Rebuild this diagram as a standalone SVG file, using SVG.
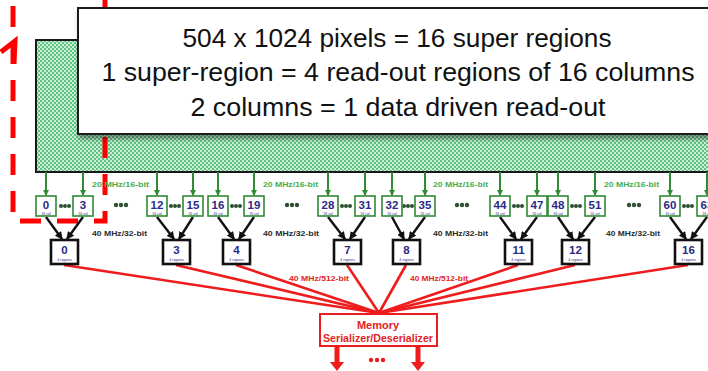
<svg xmlns="http://www.w3.org/2000/svg" width="708" height="371" viewBox="0 0 708 371">
  <style>
    .title { font-family: "Liberation Sans", Arial, sans-serif; font-size: 26px; fill: #111; }
    .num { font-family: "Liberation Sans", Arial, sans-serif; font-weight: bold; font-size: 11.5px; fill: #2a2a86; text-anchor: middle; }
    .tiny { font-family: "Liberation Sans", Arial, sans-serif; font-size: 3.5px; fill: #2a2a86; text-anchor: middle; }
    .col { fill: #ffffff; stroke: #2f8a34; stroke-width: 1.6; }
    .reg { fill: #ffffff; stroke: #111111; stroke-width: 2.6; }
    .lblg { font-family: "Liberation Sans", Arial, sans-serif; font-weight: bold; font-size: 8px; fill: #45ad4e; }
    .lblk { font-family: "Liberation Sans", Arial, sans-serif; font-weight: bold; font-size: 8px; fill: #2a2a2a; }
    .lblr { font-family: "Liberation Sans", Arial, sans-serif; font-weight: bold; font-size: 8px; fill: #e52222; }
    .garr { stroke: #2f8a34; stroke-width: 2; fill: none; marker-end: url(#ahG); }
    .karr { stroke: #111111; stroke-width: 2.4; fill: none; marker-end: url(#ahK); }
    .rline { stroke: #ee1c1c; stroke-width: 2.6; fill: none; }
    .gdot { fill: #2f4f33; }
    .mem { font-family: "Liberation Sans", Arial, sans-serif; font-weight: bold; fill: #e52222; text-anchor: middle; }
  </style>
  <defs>
    <pattern id="checker" width="4" height="4" patternUnits="userSpaceOnUse">
      <rect width="4" height="4" fill="#c9f0d5"/>
      <rect width="2" height="2" fill="#62c283"/>
      <rect x="2" y="2" width="2" height="2" fill="#62c283"/>
    </pattern>
    <filter id="shadow" x="-10%" y="-10%" width="130%" height="130%">
      <feDropShadow dx="2" dy="4" stdDeviation="2.5" flood-color="#000" flood-opacity="0.4"/>
    </filter>
    <marker id="ahG" markerWidth="6" markerHeight="6" refX="5" refY="3" orient="auto" markerUnits="userSpaceOnUse">
      <path d="M0,0 L6,3 L0,6 Z" fill="#2f8a34"/>
    </marker>
    <marker id="ahK" markerWidth="8" markerHeight="8" refX="7" refY="4" orient="auto" markerUnits="userSpaceOnUse">
      <path d="M0,0 L8,4 L0,8 Z" fill="#111"/>
    </marker>
  </defs>

  <rect width="708" height="371" fill="#ffffff"/>

  <!-- pixel matrix -->
  <g id="matrix">
    <rect x="36" y="40" width="680" height="132" fill="url(#checker)" stroke="#1a1a1a" stroke-width="2"/>
  </g>

  <!-- super-region outline (dashed) and its pointer -->
  <g id="highlight">
    <path d="M13,0 V221 H105 V0" fill="none" stroke="#ff0000" stroke-width="5" stroke-dasharray="21 16" stroke-dashoffset="-6"/>
    <polyline points="1,52 15,41 14,64" fill="none" stroke="#ff0000" stroke-width="5" stroke-linejoin="miter"/>
  </g>

  <!-- caption box -->
  <g id="caption">
    <rect x="78" y="8" width="640" height="126" fill="#ffffff" stroke="#1a1a1a" stroke-width="2" filter="url(#shadow)"/>
    <text class="title" x="397" y="47" text-anchor="middle" textLength="429" lengthAdjust="spacingAndGlyphs">504 x 1024 pixels = 16 super regions</text>
    <text class="title" x="398" y="81" text-anchor="middle" textLength="593" lengthAdjust="spacingAndGlyphs">1 super-region = 4 read-out regions of 16 columns</text>
    <text class="title" x="398" y="116" text-anchor="middle" textLength="415" lengthAdjust="spacingAndGlyphs">2 columns = 1 data driven read-out</text>
  </g>

  <!-- connectors -->
  <g id="connectors">
    <!-- matrix to column read-outs -->
    <line class="garr" x1="46" y1="172" x2="46" y2="195"/>
    <line class="garr" x1="83" y1="172" x2="83" y2="195"/>
    <line class="garr" x1="157" y1="172" x2="157" y2="195"/>
    <line class="garr" x1="193" y1="172" x2="193" y2="195"/>
    <line class="garr" x1="218" y1="172" x2="218" y2="195"/>
    <line class="garr" x1="254" y1="172" x2="254" y2="195"/>
    <line class="garr" x1="328" y1="172" x2="328" y2="195"/>
    <line class="garr" x1="365" y1="172" x2="365" y2="195"/>
    <line class="garr" x1="392" y1="172" x2="392" y2="195"/>
    <line class="garr" x1="425" y1="172" x2="425" y2="195"/>
    <line class="garr" x1="500" y1="172" x2="500" y2="195"/>
    <line class="garr" x1="537" y1="172" x2="537" y2="195"/>
    <line class="garr" x1="558" y1="172" x2="558" y2="195"/>
    <line class="garr" x1="595" y1="172" x2="595" y2="195"/>
    <line class="garr" x1="670" y1="172" x2="670" y2="195"/>
    <line class="garr" x1="707" y1="172" x2="707" y2="195"/>

    <!-- column read-outs to region blocks -->
    <line class="karr" x1="46" y1="217" x2="62" y2="239"/>
    <line class="karr" x1="83" y1="217" x2="67" y2="239"/>
    <line class="karr" x1="157" y1="217" x2="174" y2="239"/>
    <line class="karr" x1="193" y1="217" x2="179" y2="239"/>
    <line class="karr" x1="218" y1="217" x2="234" y2="239"/>
    <line class="karr" x1="254" y1="217" x2="239" y2="239"/>
    <line class="karr" x1="328" y1="217" x2="345" y2="239"/>
    <line class="karr" x1="365" y1="217" x2="350" y2="239"/>
    <line class="karr" x1="392" y1="217" x2="404" y2="239"/>
    <line class="karr" x1="425" y1="217" x2="409" y2="239"/>
    <line class="karr" x1="500" y1="217" x2="516" y2="239"/>
    <line class="karr" x1="537" y1="217" x2="521" y2="239"/>
    <line class="karr" x1="558" y1="217" x2="573" y2="239"/>
    <line class="karr" x1="595" y1="217" x2="578" y2="239"/>
    <line class="karr" x1="670" y1="217" x2="686" y2="239"/>
    <line class="karr" x1="707" y1="217" x2="691" y2="239"/>

    <!-- region blocks to memory -->
    <line class="rline" x1="64" y1="265" x2="379" y2="313"/>
    <line class="rline" x1="176" y1="265" x2="379" y2="313"/>
    <line class="rline" x1="236" y1="265" x2="379" y2="313"/>
    <line class="rline" x1="347" y1="265" x2="379" y2="313"/>
    <line class="rline" x1="406" y1="265" x2="379" y2="313"/>
    <line class="rline" x1="518" y1="265" x2="379" y2="313"/>
    <line class="rline" x1="575" y1="265" x2="379" y2="313"/>
    <line class="rline" x1="688" y1="265" x2="379" y2="313"/>

    <!-- memory outputs -->
    <rect x="334.5" y="346" width="5" height="17" fill="#ee1c1c"/>
    <polygon points="330,362 344,362 337,371" fill="#ee1c1c"/>
    <rect x="415.5" y="346" width="5" height="17" fill="#ee1c1c"/>
    <polygon points="411,362 425,362 418,371" fill="#ee1c1c"/>
    <circle cx="371" cy="360" r="2.2" fill="#ee1c1c"/>
    <circle cx="377" cy="360" r="2.2" fill="#ee1c1c"/>
    <circle cx="383" cy="360" r="2.2" fill="#ee1c1c"/>

    <!-- link labels -->
    <text class="lblg" x="92" y="187" textLength="57" lengthAdjust="spacingAndGlyphs">20 MHz/16-bit</text>
    <text class="lblg" x="263" y="187" textLength="55" lengthAdjust="spacingAndGlyphs">20 MHz/16-bit</text>
    <text class="lblg" x="433" y="187" textLength="55" lengthAdjust="spacingAndGlyphs">20 MHz/16-bit</text>
    <text class="lblg" x="604" y="187" textLength="55" lengthAdjust="spacingAndGlyphs">20 MHz/16-bit</text>
    <text class="lblk" x="92" y="236" textLength="55" lengthAdjust="spacingAndGlyphs">40 MHz/32-bit</text>
    <text class="lblk" x="263" y="236" textLength="56" lengthAdjust="spacingAndGlyphs">40 MHz/32-bit</text>
    <text class="lblk" x="433" y="236" textLength="55" lengthAdjust="spacingAndGlyphs">40 MHz/32-bit</text>
    <text class="lblk" x="606" y="236" textLength="54" lengthAdjust="spacingAndGlyphs">40 MHz/32-bit</text>
    <text class="lblr" x="289" y="281" textLength="60" lengthAdjust="spacingAndGlyphs">40 MHz/512-bit</text>
    <text class="lblr" x="410" y="281" textLength="58" lengthAdjust="spacingAndGlyphs">40 MHz/512-bit</text>
  </g>

  <!-- ellipses between groups -->
  <g id="ellipses">
    <circle class="gdot" cx="61" cy="206" r="2"/><circle class="gdot" cx="65" cy="206" r="2"/><circle class="gdot" cx="69" cy="206" r="2"/>
    <circle class="gdot" cx="171" cy="206" r="2"/><circle class="gdot" cx="175" cy="206" r="2"/><circle class="gdot" cx="179" cy="206" r="2"/>
    <circle class="gdot" cx="232" cy="206" r="2"/><circle class="gdot" cx="236" cy="206" r="2"/><circle class="gdot" cx="240" cy="206" r="2"/>
    <circle class="gdot" cx="342" cy="206" r="2"/><circle class="gdot" cx="346" cy="206" r="2"/><circle class="gdot" cx="350" cy="206" r="2"/>
    <circle class="gdot" cx="404" cy="206" r="2"/><circle class="gdot" cx="408" cy="206" r="2"/><circle class="gdot" cx="412" cy="206" r="2"/>
    <circle class="gdot" cx="514" cy="206" r="2"/><circle class="gdot" cx="518" cy="206" r="2"/><circle class="gdot" cx="522" cy="206" r="2"/>
    <circle class="gdot" cx="572" cy="206" r="2"/><circle class="gdot" cx="576" cy="206" r="2"/><circle class="gdot" cx="580" cy="206" r="2"/>
    <circle class="gdot" cx="684" cy="206" r="2"/><circle class="gdot" cx="688" cy="206" r="2"/><circle class="gdot" cx="692" cy="206" r="2"/>
    <circle class="gdot" cx="116" cy="205" r="2.2"/><circle class="gdot" cx="121" cy="205" r="2.2"/><circle class="gdot" cx="126" cy="205" r="2.2"/>
    <circle class="gdot" cx="287" cy="205" r="2.2"/><circle class="gdot" cx="292" cy="205" r="2.2"/><circle class="gdot" cx="297" cy="205" r="2.2"/>
    <circle class="gdot" cx="457" cy="205" r="2.2"/><circle class="gdot" cx="462" cy="205" r="2.2"/><circle class="gdot" cx="467" cy="205" r="2.2"/>
    <circle class="gdot" cx="629" cy="205" r="2.2"/><circle class="gdot" cx="634" cy="205" r="2.2"/><circle class="gdot" cx="639" cy="205" r="2.2"/>
  </g>

  <!-- column read-out nodes -->
  <g id="col0"><rect class="col" x="36" y="196" width="20" height="20"/><text class="num" x="46" y="209">0</text><text class="tiny" x="46" y="214.5">16 col</text></g>
  <g id="col3"><rect class="col" x="73" y="196" width="20" height="20"/><text class="num" x="83" y="209">3</text><text class="tiny" x="83" y="214.5">16 col</text></g>
  <g id="col12"><rect class="col" x="147" y="196" width="20" height="20"/><text class="num" x="157" y="209">12</text><text class="tiny" x="157" y="214.5">16 col</text></g>
  <g id="col15"><rect class="col" x="183" y="196" width="20" height="20"/><text class="num" x="193" y="209">15</text><text class="tiny" x="193" y="214.5">16 col</text></g>
  <g id="col16"><rect class="col" x="208" y="196" width="20" height="20"/><text class="num" x="218" y="209">16</text><text class="tiny" x="218" y="214.5">16 col</text></g>
  <g id="col19"><rect class="col" x="244" y="196" width="20" height="20"/><text class="num" x="254" y="209">19</text><text class="tiny" x="254" y="214.5">16 col</text></g>
  <g id="col28"><rect class="col" x="318" y="196" width="20" height="20"/><text class="num" x="328" y="209">28</text><text class="tiny" x="328" y="214.5">16 col</text></g>
  <g id="col31"><rect class="col" x="355" y="196" width="20" height="20"/><text class="num" x="365" y="209">31</text><text class="tiny" x="365" y="214.5">16 col</text></g>
  <g id="col32"><rect class="col" x="382" y="196" width="20" height="20"/><text class="num" x="392" y="209">32</text><text class="tiny" x="392" y="214.5">16 col</text></g>
  <g id="col35"><rect class="col" x="415" y="196" width="20" height="20"/><text class="num" x="425" y="209">35</text><text class="tiny" x="425" y="214.5">16 col</text></g>
  <g id="col44"><rect class="col" x="490" y="196" width="20" height="20"/><text class="num" x="500" y="209">44</text><text class="tiny" x="500" y="214.5">16 col</text></g>
  <g id="col47"><rect class="col" x="527" y="196" width="20" height="20"/><text class="num" x="537" y="209">47</text><text class="tiny" x="537" y="214.5">16 col</text></g>
  <g id="col48"><rect class="col" x="548" y="196" width="20" height="20"/><text class="num" x="558" y="209">48</text><text class="tiny" x="558" y="214.5">16 col</text></g>
  <g id="col51"><rect class="col" x="585" y="196" width="20" height="20"/><text class="num" x="595" y="209">51</text><text class="tiny" x="595" y="214.5">16 col</text></g>
  <g id="col60"><rect class="col" x="660" y="196" width="20" height="20"/><text class="num" x="670" y="209">60</text><text class="tiny" x="670" y="214.5">16 col</text></g>
  <g id="col63"><rect class="col" x="697" y="196" width="20" height="20"/><text class="num" x="707" y="209">63</text><text class="tiny" x="707" y="214.5">16 col</text></g>

  <!-- read-out region nodes -->
  <g id="reg0"><rect class="reg" x="51" y="240" width="27" height="24"/><text class="num" x="64.5" y="254">0</text><text class="tiny" x="64.5" y="260.5">4 regions</text></g>
  <g id="reg3"><rect class="reg" x="163" y="240" width="27" height="24"/><text class="num" x="176.5" y="254">3</text><text class="tiny" x="176.5" y="260.5">4 regions</text></g>
  <g id="reg4"><rect class="reg" x="223" y="240" width="27" height="24"/><text class="num" x="236.5" y="254">4</text><text class="tiny" x="236.5" y="260.5">4 regions</text></g>
  <g id="reg7"><rect class="reg" x="334" y="240" width="27" height="24"/><text class="num" x="347.5" y="254">7</text><text class="tiny" x="347.5" y="260.5">4 regions</text></g>
  <g id="reg8"><rect class="reg" x="393" y="240" width="27" height="24"/><text class="num" x="406.5" y="254">8</text><text class="tiny" x="406.5" y="260.5">4 regions</text></g>
  <g id="reg11"><rect class="reg" x="505" y="240" width="27" height="24"/><text class="num" x="518.5" y="254">11</text><text class="tiny" x="518.5" y="260.5">4 regions</text></g>
  <g id="reg12"><rect class="reg" x="562" y="240" width="27" height="24"/><text class="num" x="575.5" y="254">12</text><text class="tiny" x="575.5" y="260.5">4 regions</text></g>
  <g id="reg16"><rect class="reg" x="675" y="240" width="27" height="24"/><text class="num" x="688.5" y="254">16</text><text class="tiny" x="688.5" y="260.5">4 regions</text></g>

  <!-- memory serializer -->
  <g id="memory">
    <rect x="320" y="314" width="117" height="32" fill="#ffffff" stroke="#ee1c1c" stroke-width="2"/>
    <text class="mem" x="378" y="329" font-size="11">Memory</text>
    <text class="mem" x="378" y="342" font-size="10.5" textLength="110" lengthAdjust="spacingAndGlyphs">Serializer/Deserializer</text>
  </g>
</svg>
